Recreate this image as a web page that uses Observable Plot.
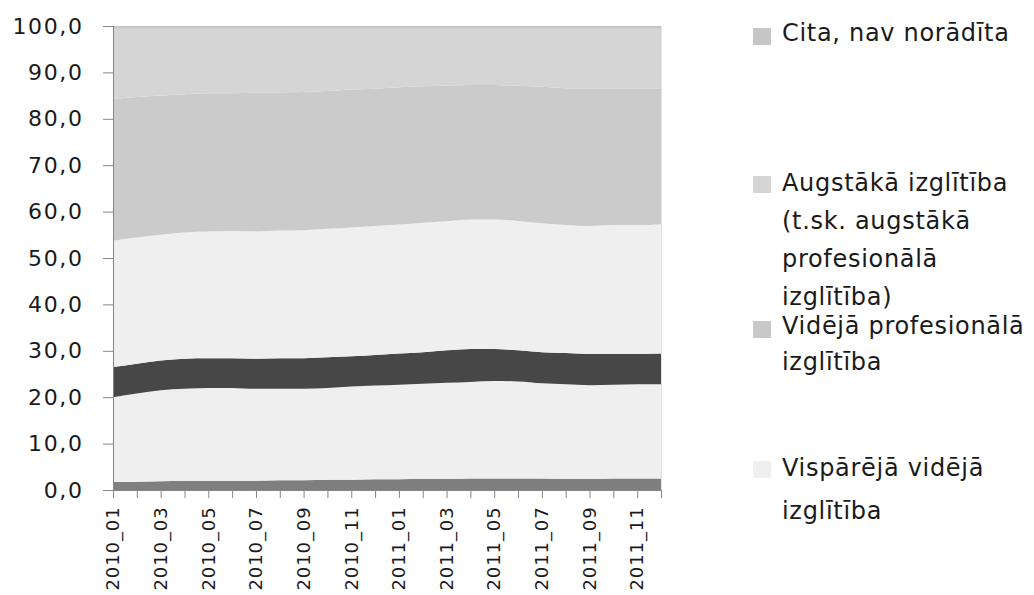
<!DOCTYPE html>
<html>
<head>
<meta charset="utf-8">
<script src="https://cdn.jsdelivr.net/npm/d3@7"></script>
<script src="https://cdn.jsdelivr.net/npm/@observablehq/plot@0.6"></script>
<style>
  html, body { margin: 0; padding: 0; background: #fff; }
  #wrap { position: relative; width: 1034px; height: 595px; font-family: "DejaVu Sans", sans-serif; color: #1a1a1a; overflow: hidden; }
  .lg { position: absolute; left: 753px; white-space: nowrap; }
  .sw { position: absolute; left: 0; width: 18px; height: 17px; }
  .tx { position: absolute; left: 29px; font-size: 24px; letter-spacing: 0.7px; line-height: 38px; }
</style>
</head>
<body>
<div id="wrap"></div>
<script>
const months = ["2010_01","2010_02","2010_03","2010_04","2010_05","2010_06","2010_07","2010_08","2010_09","2010_10","2010_11","2010_12",
                "2011_01","2011_02","2011_03","2011_04","2011_05","2011_06","2011_07","2011_08","2011_09","2011_10","2011_11","2011_12"];
const seriesNames = ["Zemāka par pamatizglītību","Pamatizglītība","Arodizglītība","Vispārējā vidējā izglītība","Vidējā profesionālā izglītība","Augstākā izglītība (t.sk. augstākā profesionālā izglītība)","Cita, nav norādīta"];
const seriesColors = ["#7f7f7f","#efefef","#474747","#efefef","#cbcbcb","#d5d5d5","#c6c6c6"];
const zemaka   = [1.7,1.8,1.9,2.0,2.0,2.0,2.0,2.1,2.1,2.2,2.2,2.3,2.3,2.4,2.4,2.5,2.5,2.5,2.5,2.4,2.4,2.5,2.5,2.5];
const pamat    = [18.3,19.0,19.6,19.8,20.0,20.0,19.8,19.7,19.7,19.8,20.1,20.2,20.4,20.5,20.7,20.8,21.0,20.9,20.5,20.4,20.2,20.2,20.3,20.3];
const arod     = [6.5,6.4,6.4,6.5,6.4,6.4,6.5,6.6,6.6,6.6,6.5,6.6,6.7,6.8,7.0,7.1,6.9,6.7,6.7,6.7,6.7,6.6,6.5,6.6];
const vispVid  = [27.2,27.2,27.1,27.2,27.3,27.4,27.4,27.5,27.6,27.7,27.8,27.8,27.8,27.9,27.8,27.9,27.9,27.9,27.8,27.6,27.6,27.8,27.8,27.9];
const vidProf  = [30.6,30.3,30.0,29.8,29.8,29.7,29.9,29.8,29.8,29.7,29.7,29.6,29.6,29.4,29.3,29.0,29.0,29.1,29.4,29.5,29.6,29.4,29.4,29.3];
const augst    = [15.1,14.7,14.4,14.1,13.9,13.9,13.8,13.7,13.6,13.4,13.1,12.9,12.6,12.4,12.2,12.1,12.1,12.3,12.5,12.8,12.9,12.9,12.9,12.8];
const cita     = [0.6,0.6,0.6,0.6,0.6,0.6,0.6,0.6,0.6,0.6,0.6,0.6,0.6,0.6,0.6,0.6,0.6,0.6,0.6,0.6,0.6,0.6,0.6,0.6];
const yTicks = [0,10,20,30,40,50,60,70,80,90,100];

const seriesValues = [zemaka, pamat, arod, vispVid, vidProf, augst, cita];
const data = [];
seriesNames.forEach((name, s) => {
  months.forEach((m, i) => data.push({month: m, series: name, value: seriesValues[s][i]}));
});

const fmt = d => d.toFixed(1).replace(".", ",");

const chart = Plot.plot({
  width: 1034,
  height: 595,
  marginLeft: 113,
  marginRight: 373,
  marginTop: 26,
  marginBottom: 105,
  style: {fontFamily: "DejaVu Sans, sans-serif", color: "#1a1a1a", background: "transparent"},
  x: {type: "point", domain: months, padding: 0, round: false, label: null},
  y: {domain: [0, 100], label: null},
  color: {domain: seriesNames, range: seriesColors},
  marks: [
    Plot.areaY(data, {x: "month", y: "value", fill: "series", order: seriesNames, curve: "monotone-x"}),
    Plot.ruleX([months[months.length - 1]], {stroke: "#e4e4e4"}),
    Plot.axisY({ticks: yTicks, tickFormat: fmt, tickSize: 10, tickPadding: 20, fontSize: 22, stroke: "#868686", strokeOpacity: 1, label: null}),
    Plot.axisX({ticks: months, tickFormat: d => (months.indexOf(d) % 2 === 0 ? d : ""), tickRotate: -90, tickSize: 8, tickPadding: 8, fontSize: 18, stroke: "#868686", strokeOpacity: 1, label: null}),
    Plot.ruleX([months[0]], {stroke: "#868686"}),
    Plot.ruleY([0], {stroke: "#868686"})
  ]
});
const wrap = document.getElementById("wrap");
chart.style.position = "absolute";
chart.style.left = "0";
chart.style.top = "0";
chart.querySelectorAll("[aria-label='y-axis tick label'] text").forEach(t => t.setAttribute("letter-spacing", "1.6"));
chart.querySelectorAll("[aria-label='x-axis tick label'] text").forEach(t => t.setAttribute("letter-spacing", "0.9"));
wrap.appendChild(chart);

const legendItems = [
  {color: "#c6c6c6", top: 14, swTop: 28, lh: 38, lines: ["Cita, nav norādīta"]},
  {color: "#d5d5d5", top: 164, swTop: 176, lh: 38, lines: ["Augstākā izglītība", "(t.sk. augstākā", "profesionālā", "izglītība)"]},
  {color: "#c8c8c8", top: 308, swTop: 321, lh: 36, lines: ["Vidējā profesionālā", "izglītība"]},
  {color: "#efefef", top: 447, swTop: 461, lh: 43, lines: ["Vispārējā vidējā", "izglītība"]}
];
legendItems.forEach(it => {
  const d = document.createElement("div");
  d.className = "lg";
  d.style.top = it.top + "px";
  const sw = document.createElement("div");
  sw.className = "sw";
  sw.style.background = it.color;
  sw.style.top = (it.swTop - it.top) + "px";
  d.appendChild(sw);
  const tx = document.createElement("div");
  tx.className = "tx";
  tx.style.lineHeight = it.lh + "px";
  tx.innerHTML = it.lines.join("<br>");
  d.appendChild(tx);
  wrap.appendChild(d);
});
</script>
</body>
</html>
